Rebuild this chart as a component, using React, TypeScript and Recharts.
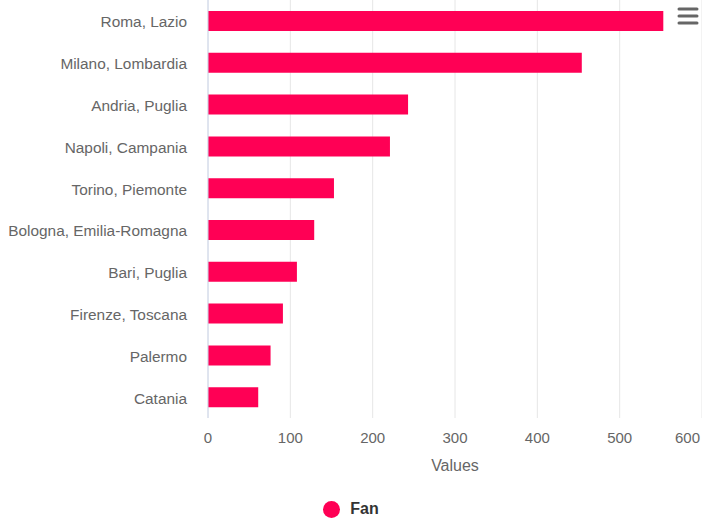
import React from 'react'
import { BarChart, Bar, XAxis, YAxis, CartesianGrid, Legend } from 'recharts'

const cities = [
  'Roma, Lazio',
  'Milano, Lombardia',
  'Andria, Puglia',
  'Napoli, Campania',
  'Torino, Piemonte',
  'Bologna, Emilia-Romagna',
  'Bari, Puglia',
  'Firenze, Toscana',
  'Palermo',
  'Catania',
]
const fans = [553, 454, 243, 221, 153, 129, 108, 91, 76, 61]
const xTicks = [0, 100, 200, 300, 400, 500, 600]

const data = cities.map((city, i) => ({ city, Fan: fans[i] }))

const font = '"Liberation Sans", Arial, Helvetica, sans-serif'

// keep the last tick label inside the chart, like the original
function XTick(props: any) {
  const { x, y, payload } = props
  const last = payload.value === xTicks[xTicks.length - 1]
  return (
    <text
      x={last ? 700 : x}
      y={y}
      dy="0.71em"
      textAnchor={last ? 'end' : 'middle'}
      fill="#666"
      fontSize={15}
    >
      {payload.value}
    </text>
  )
}

function LegendBox() {
  return (
    <div
      style={{
        height: 43,
        display: 'flex',
        justifyContent: 'center',
        alignItems: 'flex-start',
        paddingTop: 21,
        boxSizing: 'border-box',
        fontFamily: font,
      }}
    >
      <div style={{ display: 'flex', alignItems: 'center', height: 20 }}>
        <span
          style={{
            width: 17,
            height: 17,
            borderRadius: '50%',
            background: '#ff0055',
            display: 'inline-block',
            marginRight: 10,
          }}
        />
        <span style={{ fontSize: 16, fontWeight: 'bold', color: '#333' }}>Fan</span>
      </div>
    </div>
  )
}

export default function App() {
  return (
    <div style={{ position: 'absolute', left: 0, top: 0, width: 702, height: 521, fontFamily: font }}>
      <BarChart
        width={702}
        height={521}
        data={data}
        layout="vertical"
        margin={{ top: 0, right: 0, bottom: 0, left: 0 }}
      >
        <CartesianGrid horizontal={false} stroke="#e6e6e6" />
        <XAxis
          type="number"
          domain={[0, 600]}
          ticks={xTicks}
          axisLine={false}
          tickLine={false}
          tickSize={0}
          tickMargin={14}
          height={60}
          tick={<XTick />}
          label={{ value: 'Values', position: 'insideBottom', offset: 7, fill: '#666', fontSize: 16 }}
        />
        <YAxis
          type="category"
          dataKey="city"
          width={208}
          axisLine={{ stroke: '#ccd6eb' }}
          tickLine={false}
          tickSize={0}
          tickMargin={21}
          interval={0}
          tick={{ fill: '#666', fontSize: 15.4, dy: 1 }}
        />
        <Legend verticalAlign="bottom" content={() => <LegendBox />} />
        <Bar dataKey="Fan" fill="#ff0055" barSize={20} isAnimationActive={false} />
      </BarChart>
      <svg
        width={24}
        height={20}
        style={{ position: 'absolute', left: 676, top: 6 }}
      >
        <line x1={3} y1={3} x2={21} y2={3} stroke="#666" strokeWidth={3} strokeLinecap="round" />
        <line x1={3} y1={10} x2={21} y2={10} stroke="#666" strokeWidth={3} strokeLinecap="round" />
        <line x1={3} y1={17} x2={21} y2={17} stroke="#666" strokeWidth={3} strokeLinecap="round" />
      </svg>
    </div>
  )
}
